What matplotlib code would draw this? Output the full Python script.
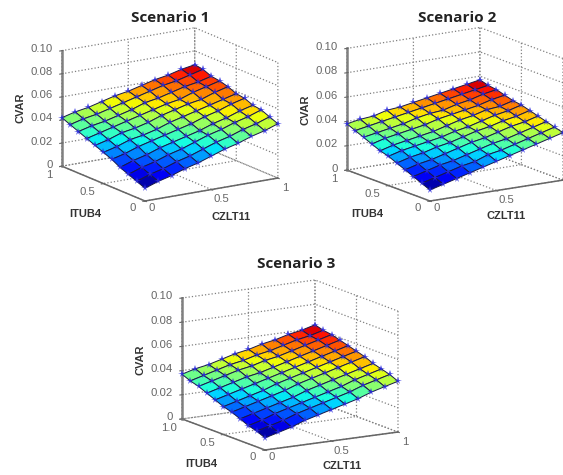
import numpy as np
import matplotlib
matplotlib.use("Agg")
import matplotlib.pyplot as plt
from mpl_toolkits.mplot3d import proj3d

czlt11 = [0, .1, .2, .3, .4, .5, .6, .7, .8, .9, 1]
itub4 = [0, .1, .2, .3, .4, .5, .6, .7, .8, .9, 1]

cvar_s1 = [
    [11, 15, 18, 22, 25, 29, 33, 36, 40, 43, 47],
    [14, 18, 21, 25, 28, 32, 36, 39, 43, 46, 50],
    [17, 21, 24, 28, 31, 35, 39, 42, 46, 49, 53],
    [20, 24, 27, 31, 34, 37, 40, 44, 47, 51, 54],
    [24, 27, 31, 34, 37, 40, 43, 47, 50, 54, 57],
    [27, 30, 34, 36, 39, 43, 46, 49, 52, 55, 58],
    [30, 33, 37, 39, 42, 46, 49, 52, 54, 58, 61],
    [33, 36, 39, 42, 45, 48, 51, 53, 57, 60, 63],
    [36, 39, 41, 44, 47, 51, 53, 56, 59, 61, 64],
    [39, 42, 44, 47, 50, 53, 56, 59, 61, 64, 67],
    [42, 45, 47, 50, 53, 55, 58, 61, 63, 66, 68],
]
cvar_s2 = [
    [9, 12, 15, 18, 21, 24, 27, 30, 33, 36, 39],
    [12, 15, 18, 21, 23, 27, 29, 32, 35, 38, 41],
    [15, 18, 21, 23, 26, 29, 32, 34, 37, 40, 43],
    [18, 21, 23, 26, 29, 32, 34, 37, 40, 42, 45],
    [21, 24, 26, 29, 31, 34, 37, 39, 42, 44, 47],
    [24, 27, 29, 31, 33, 36, 38, 41, 44, 46, 49],
    [26, 29, 31, 33, 35, 38, 41, 43, 46, 47, 50],
    [29, 32, 34, 36, 38, 41, 43, 45, 47, 50, 52],
    [32, 34, 36, 38, 41, 43, 44, 47, 49, 52, 54],
    [35, 37, 39, 41, 43, 45, 47, 49, 51, 53, 55],
    [38, 40, 41, 44, 45, 47, 49, 51, 53, 55, 57],
]
cvar_s3 = [
    [10, 13, 16, 20, 23, 26, 29, 32, 36, 39, 42],
    [13, 16, 19, 23, 26, 29, 32, 35, 39, 42, 45],
    [15, 18, 22, 25, 28, 31, 34, 37, 41, 44, 47],
    [18, 21, 24, 27, 30, 34, 37, 40, 43, 46, 49],
    [21, 24, 27, 30, 33, 37, 40, 43, 46, 49, 52],
    [23, 26, 29, 32, 36, 39, 42, 45, 48, 51, 54],
    [26, 29, 32, 35, 38, 41, 44, 47, 50, 53, 56],
    [29, 32, 35, 38, 40, 43, 46, 49, 52, 55, 58],
    [32, 35, 38, 41, 43, 46, 48, 51, 54, 57, 60],
    [34, 37, 40, 43, 45, 48, 50, 53, 56, 58, 61],
    [37, 40, 42, 45, 48, 50, 53, 55, 58, 60, 63],
]
titles = ["Scenario 1", "Scenario 2", "Scenario 3"]
x_ticks = [0, 0.5, 1]
x_ticklabels = [["0", "0.5", "1"], ["0", "0.5", ""], ["0", "0.5", "1"]]
y_ticks = [0, 0.5, 1]
y_ticklabels = [["0", "0.5", "1"], ["0", "0.5", "1"], ["0", "0.5", "1.0"]]
z_ticks = [0, 0.02, 0.04, 0.06, 0.08, 0.10]
z_ticklabels = ["0", "0.02", "0.04", "0.06", "0.08", "0.10"]

W, H = 563, 475
fig = plt.figure(figsize=(W / 100, H / 100), dpi=100, facecolor="white")

# layout in reference pixels
layouts = [
    dict(F=(145, 201), R=(278, 178), L=(62, 166), el=15.6, t=32.7, box=(158, 154, 120),
         title=(170, 18), xl=(231, 217), yl=(85, 214), zl=(20, 108), clim=(12, 71)),
    dict(F=(430, 201), R=(563, 180), L=(347, 170), el=14.0, t=33.0, box=(158, 152, 125),
         title=(457, 18), xl=(506, 216), yl=(367, 214), zl=(305, 110), clim=(10, 59)),
    dict(F=(265, 450), R=(398, 432), L=(182, 419), el=13.0, t=31.0, box=(155, 161, 124),
         title=(296, 264), xl=(342, 466), yl=(201, 464), zl=(140, 360), clim=(11, 65)),
]
x_label_off = [(7, 7), (10, 9.5), (7, 10)]
y_label_off = [(-12, 7), (-16, 8.5), (-13, 9)]
GRAY = "#666666"


def px(ax, p):
    u, v, _ = proj3d.proj_transform(p[0], p[1], p[2], ax.get_proj())
    d = ax.transData.transform((u, v))
    return d[0], H - d[1]


def label_at(x, y, s, ha="center"):
    if s:
        fig.text(x / W, 1 - y / H, s, ha=ha, va="center", fontsize=8.2,
                 family="Liberation Sans", color=GRAY)


for i, (vals, lay) in enumerate(zip([cvar_s1, cvar_s2, cvar_s3], layouts)):
    ax = fig.add_axes([0.1, 0.1, 0.5, 0.5 * W / H], projection="3d", computed_zorder=False)
    ax.set_facecolor("none")
    ax.set_proj_type("ortho")
    ax.view_init(elev=lay["el"], azim=-90 - lay["t"])
    ax.set_box_aspect(lay["box"])
    ax.set_xlim(0, 1, view_margin=0)
    ax.set_ylim(0, 1, view_margin=0)
    ax.set_zlim(0, 0.1, view_margin=0)

    X, Y = np.meshgrid(czlt11, itub4)
    Z = np.array(vals) / 1000.0
    ax.plot_surface(X, Y, Z, cmap="jet", vmin=lay["clim"][0] / 1000, vmax=lay["clim"][1] / 1000,
                    rstride=1, cstride=1, edgecolor="#181848",
                    linewidth=0.7, antialiased=True, shade=False, zorder=3)
    ax.plot(X.ravel(), Y.ravel(), Z.ravel(), ls="none", marker="*", ms=5.5, color="#2a2ae0",
            mew=0, alpha=0.85, zorder=4)

    ax.set_xticks(x_ticks)
    ax.set_yticks(y_ticks)
    ax.set_zticks(z_ticks)
    ax.set_xticklabels([])
    ax.set_yticklabels([])
    ax.set_zticklabels([])
    for axis in (ax.xaxis, ax.yaxis, ax.zaxis):
        axis.set_pane_color((1, 1, 1, 0))
        axis.pane.set_edgecolor((1, 1, 1, 0))
        axis._axinfo["grid"].update(color="#808080", linestyle=":", linewidth=0.9)
        axis.line.set_color(GRAY)
        axis.line.set_linewidth(1.1)
    ax.zaxis.line.set_linewidth(1.8)
    ax.zaxis.line.set_color("#808080")
    ax.tick_params(axis="both", colors=GRAY, length=0)

    # fit the projected box on its layout box
    fig.canvas.draw()
    r0, l0 = px(ax, (1, 0, 0)), px(ax, (0, 1, 0))
    s = (lay["R"][0] - lay["L"][0]) / (r0[0] - l0[0])
    pos = ax.get_position()
    w, h = pos.width * s, pos.height * s
    ax.set_position([pos.x0, pos.y0, w, h])
    fig.canvas.draw()
    f1 = px(ax, (0, 0, 0))
    dx = (lay["F"][0] - f1[0]) / W
    dy = -(lay["F"][1] - f1[1]) / H
    ax.set_position([pos.x0 + dx, pos.y0 + dy, w, h])
    fig.canvas.draw()

    for t, s_, off in zip(x_ticks, x_ticklabels[i], x_label_off):
        p = px(ax, (t, 0, 0))
        label_at(p[0] + off[0], p[1] + off[1], s_)
    for t, s_, off in zip(y_ticks, y_ticklabels[i], y_label_off):
        p = px(ax, (0, t, 0))
        label_at(p[0] + off[0], p[1] + off[1], s_)
    for t, s_ in zip(z_ticks, z_ticklabels):
        p = px(ax, (0, 1, t))
        label_at(p[0] - 9, p[1] - 1.5, s_, ha="right")

    fig.text(lay["title"][0] / W, 1 - lay["title"][1] / H, titles[i], ha="center", va="center",
             fontsize=11, fontweight="bold", family="Open Sans", color="#222222")
    lb = dict(ha="center", va="center", fontsize=8, fontweight="bold",
              family="Liberation Sans", color="#333333")
    fig.text(lay["xl"][0] / W, 1 - lay["xl"][1] / H, "CZLT11", **lb)
    fig.text(lay["yl"][0] / W, 1 - lay["yl"][1] / H, "ITUB4", **lb)
    fig.text(lay["zl"][0] / W, 1 - lay["zl"][1] / H, "CVAR", rotation=90, **lb)

fig.savefig("out.png", dpi=100)
